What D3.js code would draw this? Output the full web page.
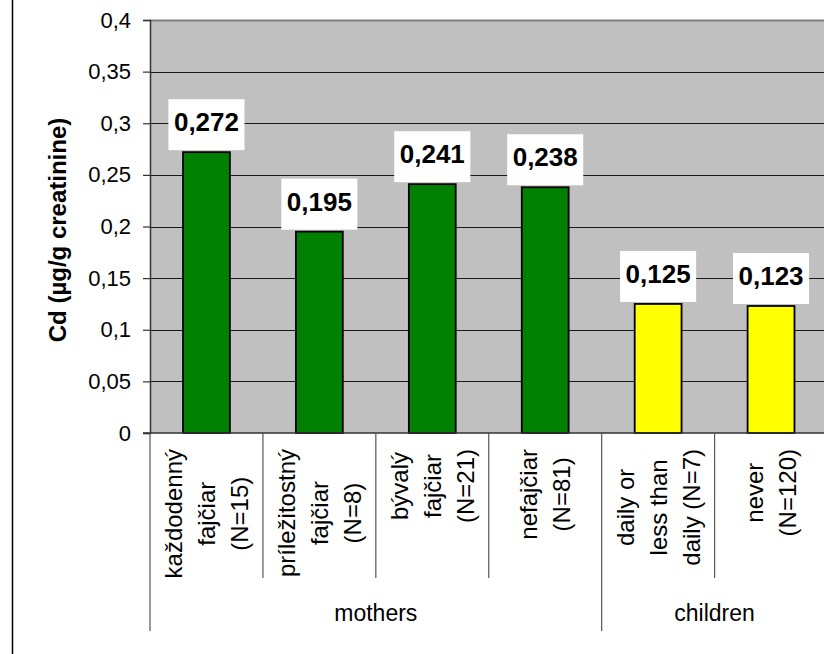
<!DOCTYPE html>
<html>
<head>
<meta charset="utf-8">
<script src="https://cdn.jsdelivr.net/npm/d3@7"></script>
<style>
  body { margin: 0; background: #fff; }
  svg { display: block; font-family: "Liberation Sans", Arial, sans-serif; }
</style>
</head>
<body>
<div id="chart"></div>
<script>
// category labels, one entry per line of the rotated text
const categoryLines = [
    ["každodenný", "fajčiar", "(N=15)"],
    ["príležitostný", "fajčiar", "(N=8)"],
    ["bývalý", "fajčiar", "(N=21)"],
    ["nefajčiar", "(N=81)"],
    ["daily or", "less than", "daily (N=7)"],
    ["never", "(N=120)"]
];
const values = [0.272, 0.195, 0.241, 0.238, 0.125, 0.123];
const groupOf = ["mothers", "mothers", "mothers", "mothers", "children", "children"];
const groupNames = ["mothers", "children"];
const yTicks = [0, 0.05, 0.1, 0.15, 0.2, 0.25, 0.3, 0.35, 0.4];
const yTitle = "Cd (µg/g creatinine)";

const groupColor = { mothers: "#008000", children: "#ffff00" };

const width = 824, height = 654;
const plot = { left: 150, top: 20, bottom: 433, right: 827.5 };

const locale = d3.formatLocale({ decimal: ",", thousands: " ", grouping: [3], currency: ["", ""] });
const fmtTick = v => locale.format("")(+v.toFixed(2));
const fmtVal = locale.format(".3f");

const svg = d3.select("#chart").append("svg")
    .attr("width", width)
    .attr("height", height);

const keys = categoryLines.map((l, i) => i);
const x = d3.scaleBand().domain(keys).range([plot.left, plot.right]).padding(0);
const y = d3.scaleLinear().domain([0, 0.4]).range([plot.bottom, plot.top]);
const barW = x.bandwidth() * 0.415;

// outer frame (only the left edge is visible)
svg.append("line")
    .attr("x1", 12.5).attr("x2", 12.5)
    .attr("y1", 0).attr("y2", height)
    .attr("stroke", "#000").attr("stroke-width", 1.5);

// plot background
svg.append("rect")
    .attr("x", plot.left).attr("y", plot.top)
    .attr("width", plot.right - plot.left).attr("height", plot.bottom - plot.top)
    .attr("fill", "#c0c0c0");

svg.append("line")
    .attr("x1", plot.left).attr("x2", plot.right)
    .attr("y1", plot.top + 0.5).attr("y2", plot.top + 0.5)
    .attr("stroke", "#808080").attr("stroke-width", 2);

// gridlines
svg.append("g").selectAll("line")
    .data(yTicks.filter(t => t > 0 && t < 0.4))
    .join("line")
    .attr("x1", plot.left).attr("x2", plot.right)
    .attr("y1", d => Math.round(y(d)) + 0.5).attr("y2", d => Math.round(y(d)) + 0.5)
    .attr("stroke", "#1a1a1a").attr("stroke-width", 1.2);

// y axis
const yAxis = svg.append("g")
    .attr("transform", `translate(${plot.left},0)`)
    .call(d3.axisLeft(y).tickValues(yTicks).tickFormat(fmtTick).tickSize(7).tickPadding(12));
yAxis.select(".domain").attr("stroke", "#333").attr("stroke-width", 1.5);
yAxis.selectAll(".tick line").attr("stroke", "#333").attr("stroke-width", 1.2);
yAxis.selectAll(".tick text")
    .attr("font-size", 22)
    .attr("font-family", "Liberation Sans, Arial, sans-serif")
    .attr("fill", "#000");

// bars
svg.append("g").selectAll("rect")
    .data(values)
    .join("rect")
    .attr("x", (d, i) => x(i) + (x.bandwidth() - barW) / 2)
    .attr("width", barW)
    .attr("y", d => y(d))
    .attr("height", d => y(0) - y(d))
    .attr("fill", (d, i) => groupColor[groupOf[i]])
    .attr("stroke", "#000")
    .attr("stroke-width", 1.8);

// x axis line
svg.append("line")
    .attr("x1", plot.left - 7).attr("x2", plot.right)
    .attr("y1", plot.bottom).attr("y2", plot.bottom)
    .attr("stroke", "#333").attr("stroke-width", 1.5);

// data labels in white boxes
const labels = svg.append("g").selectAll("g")
    .data(values)
    .join("g")
    .attr("transform", (d, i) => `translate(${x(i) + x.bandwidth() / 2},${y(d) - 2})`);
labels.append("rect").attr("fill", "#fff");
labels.append("text")
    .attr("text-anchor", "middle")
    .attr("y", -19)
    .attr("font-size", 26)
    .attr("font-weight", "bold")
    .text(d => fmtVal(d));
labels.each(function () {
    const g = d3.select(this);
    const w = g.select("text").node().getComputedTextLength() + 11;
    g.select("rect").attr("x", -w / 2).attr("y", -51).attr("width", w).attr("height", 51);
});

// category divisions below the axis
const boundaries = d3.range(keys.length + 1);
svg.append("g").selectAll("line")
    .data(boundaries)
    .join("line")
    .attr("x1", i => i < keys.length ? x(i) : plot.right)
    .attr("x2", i => i < keys.length ? x(i) : plot.right)
    .attr("y1", plot.bottom)
    .attr("y2", i => (i === 0 || groupOf[i] !== groupOf[i - 1]) ? 631 : 578)
    .attr("stroke", "#555").attr("stroke-width", 1.2);

// rotated category labels
const lineGap = 33;
categoryLines.forEach((lines, i) => {
    const cx = x(i) + x.bandwidth() / 2;
    const g = svg.append("g");
    const texts = g.selectAll("text")
        .data(lines)
        .join("text")
        .attr("font-size", 24)
        .attr("text-anchor", "middle")
        .attr("dy", "0.35em")
        .text(d => d);
    const maxLen = d3.max(texts.nodes(), n => n.getComputedTextLength());
    const cy = plot.bottom + 16 + maxLen / 2;
    texts.attr("transform", (d, j) => `translate(${cx + (j - (lines.length - 1) / 2) * lineGap},${cy}) rotate(-90)`);
});

// group labels
svg.append("g").selectAll("text")
    .data(groupNames)
    .join("text")
    .attr("x", gname => {
        const idx = keys.filter(i => groupOf[i] === gname);
        return (x(idx[0]) + x(idx[idx.length - 1]) + x.bandwidth()) / 2;
    })
    .attr("y", 613)
    .attr("dy", "0.35em")
    .attr("text-anchor", "middle")
    .attr("font-size", 23)
    .text(d => d);

// y axis title
svg.append("text")
    .attr("transform", `translate(58,230) rotate(-90)`)
    .attr("dy", "0.35em")
    .attr("text-anchor", "middle")
    .attr("font-size", 24)
    .attr("font-weight", "bold")
    .text(yTitle);
</script>
</body>
</html>
